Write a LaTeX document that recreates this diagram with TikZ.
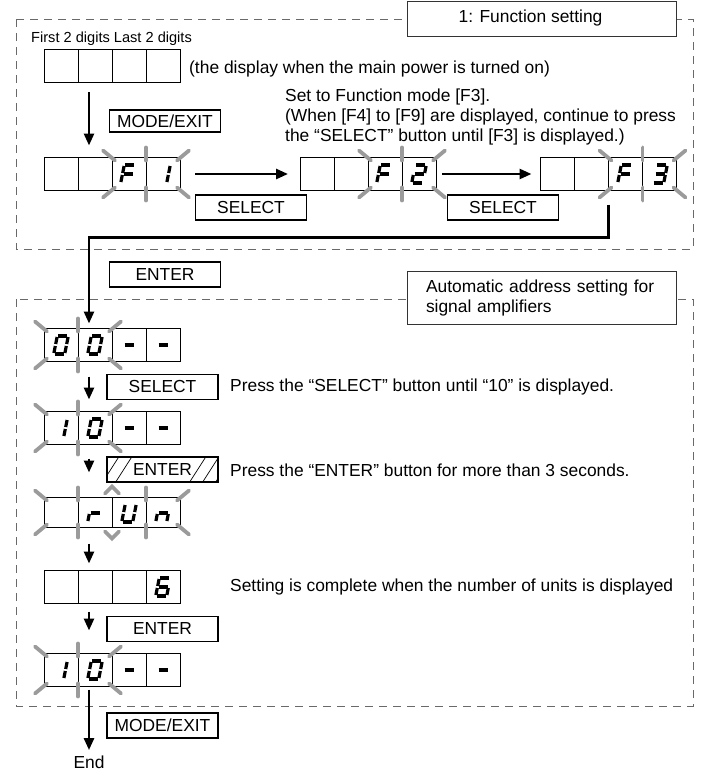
\documentclass[tikz,border=0pt]{standalone}
\usepackage{fontspec}
\setmainfont{Liberation Sans}
\usetikzlibrary{calc, arrows.meta, positioning}
\definecolor{grigio}{RGB}{155,155,155}
\definecolor{tratto}{RGB}{105,105,105}

\tikzset{
  disp/.style={draw, line width=0.8pt, minimum width=136pt, minimum height=33pt, inner sep=0pt, outer sep=0pt},
  cella/.style={line width=0.8pt},
  seg/.style={line width=3.2pt},
  raggio/.style={grigio, line width=3.8pt, line cap=round},
  tasto/.style={draw, line width=1.6pt, minimum width=111pt, minimum height=25pt, inner sep=0pt, fill=white},
  freccia/.style={line width=2.6pt, -{Triangle[length=12pt, width=10pt]}},
  riquadro/.style={tratto, line width=0.9pt, dash pattern=on 8pt off 6pt},
  titolo/.style={draw=black!80, line width=0.9pt, fill=white, minimum width=269pt, inner sep=0pt},
}

% segmenti delle cifre
\newcommand{\sA}{\draw[seg] (-4.5,-9) -- (4.5,-9);}
\newcommand{\sB}{\draw[seg] (5.5,-8) -- (5.5,-1);}
\newcommand{\sC}{\draw[seg] (5.5,1) -- (5.5,8);}
\newcommand{\sD}{\draw[seg] (-4.5,9) -- (4.5,9);}
\newcommand{\sE}{\draw[seg] (-5.5,1) -- (-5.5,8);}
\newcommand{\sF}{\draw[seg] (-5.5,-8) -- (-5.5,-1);}
\newcommand{\sG}{\draw[seg] (-4.5,0) -- (4.5,0);}
\newcommand{\cifra}[2]{\begin{scope}[shift={(#1)}, xslant=0.2]#2\end{scope}}

% display a quattro celle
\newcommand{\display}[3][33pt]{%
  \node[disp, minimum height=#1] (#2) at (#3) {};
  \foreach \k in {1,2,3}
    \draw[cella] ($(#2.north west)+(34*\k,0)$) -- ($(#2.south west)+(34*\k,0)$);
}

% raggi intorno alle cifre che lampeggiano
\newcommand{\lampeggia}[2]{%
  \begin{scope}[shift={($(#1.north west)+(#2,0)$)}]
    \draw[raggio] (3,3) -- (-9,-7);
    \draw[raggio] (34,3) -- (34,-10);
    \draw[raggio] (65,3) -- (77,-7);
  \end{scope}
  \begin{scope}[shift={($(#1.south west)+(#2,0)$)}]
    \draw[raggio] (3,-3) -- (-9,7);
    \draw[raggio] (34,-3) -- (34,10);
    \draw[raggio] (65,-3) -- (77,7);
  \end{scope}}

\begin{document}
\begin{tikzpicture}[x=1pt, y=-1pt, font=\fontsize{17.4}{20}\selectfont]
  \useasboundingbox (0,0) rectangle (703,771);
  %riquadri tratteggiati
  \draw[riquadro] (16,19) rectangle (693,249);
  \draw[riquadro] (16,299) rectangle (693,706);
  \node[titolo, minimum height=35pt] (tit1) at (541.5,18.5) {1: Function setting\hspace*{22pt}};
  \node[titolo, minimum height=53pt, text width=231pt, inner xsep=19pt, align=left] (tit2) at (541.5,297.5)
    {Automatic address setting for\\signal amplifiers};

  %display
  \display{d0}{112,65.5}
  \display{d1}{112,174}
  \display{d2}{368,174}
  \display{d3}{608.5,174}
  \display{d4}{112,345}
  \display{d5}{112,428}
  \display[30pt]{d6}{112,512.5}
  \display{d7}{112,587}
  \display{d8}{112,670}

  %cifre
  \cifra{128,174}{\sA\sF\sE\sG}
  \cifra{163,174}{\sB\sC}
  \cifra{384,174}{\sA\sF\sE\sG}
  \cifra{419,174}{\sA\sB\sG\sE\sD}
  \cifra{625,174}{\sA\sF\sE\sG}
  \cifra{660,174}{\sA\sB\sG\sC\sD}
  \cifra{61,345}{\sA\sB\sC\sD\sE\sF}
  \cifra{95,345}{\sA\sB\sC\sD\sE\sF}
  \cifra{129,345}{\sG}
  \cifra{163,345}{\sG}
  \cifra{60,428}{\sB\sC}
  \cifra{95,428}{\sA\sB\sC\sD\sE\sF}
  \cifra{129,428}{\sG}
  \cifra{163,428}{\sG}
  \cifra{95,513}{\sE\sG}
  \cifra{129,513}{\sB\sC\sD\sE\sF}
  \cifra{163,513}{\sE\sG\sC}
  \cifra{163,587}{\sA\sF\sG\sE\sD\sC}
  \cifra{60,670}{\sB\sC}
  \cifra{95,670}{\sA\sB\sC\sD\sE\sF}
  \cifra{129,670}{\sG}
  \cifra{163,670}{\sG}

  %lampeggio
  \lampeggia{d1}{68}
  \lampeggia{d2}{68}
  \lampeggia{d3}{68}
  \lampeggia{d4}{0}
  \lampeggia{d5}{0}
  \lampeggia{d8}{0}
  \begin{scope}[shift={(d6.north west)}]
    \draw[raggio] (3,3) -- (-9,-7);
    \draw[raggio] (34,3) -- (34,-10);
    \draw[raggio] (61,-4) -- (68,-11) -- (75,-4);
    \draw[raggio] (102,3) -- (102,-10);
    \draw[raggio] (133,3) -- (145,-7);
  \end{scope}
  \begin{scope}[shift={(d6.south west)}]
    \draw[raggio] (3,-3) -- (-9,7);
    \draw[raggio] (34,-3) -- (34,10);
    \draw[raggio] (61,4) -- (68,11) -- (75,4);
    \draw[raggio] (102,-3) -- (102,10);
    \draw[raggio] (133,-3) -- (145,7);
  \end{scope}

  %tasti
  \node[tasto, minimum height=22pt] (modo1) at (165,121) {MODE/EXIT};
  \node[tasto] (sel1) at (251,207.5) {SELECT};
  \node[tasto] (sel2) at (503,207.5) {SELECT};
  \node[tasto] (enter1) at (165,274.5) {ENTER};
  \node[tasto] (sel3) at (162.5,387) {SELECT};
  \node[tasto] (enter2) at (162.5,469.5) {ENTER};
  \begin{scope}
    \clip (enter2.south west) rectangle (enter2.north east);
    \foreach \x in {-4,9,83,96,109}
      \draw[line width=0.7pt] ($(enter2.south west)+(\x,0)$) -- ++(16,-25);
  \end{scope}
  \node[tasto] (enter3) at (162.5,629) {ENTER};
  \node[tasto] (modo2) at (162.5,725.5) {MODE/EXIT};

  %testi
  \node[anchor=west, inner sep=0pt, font=\fontsize{14.6}{16}\selectfont] (cifre) at (31,39) {First 2 digits Last 2 digits};
  \node[anchor=west, inner sep=0pt] (accensione) at (189,69) {(the display when the main power is turned on)};
  \node[anchor=west, inner sep=0pt, align=left] (nota) at (285,117)
    {Set to Function mode [F3].\\(When [F4] to [F9] are displayed, continue to press\\the “SELECT” button until [F3] is displayed.)};
  \node[anchor=west, inner sep=0pt] (nota1) at (230,387) {Press the “SELECT” button until “10” is displayed.};
  \node[anchor=west, inner sep=0pt] (nota2) at (230,470) {Press the “ENTER” button for more than 3 seconds.};
  \node[anchor=west, inner sep=0pt] (nota3) at (230,587) {Setting is complete when the number of units is displayed};
  \node (fine) at (89,762) {End};

  %frecce
  \draw[freccia, shorten <=10pt, shorten >=12pt] ([xshift=-23pt]d0.south) -- ([xshift=-23pt]d1.north);
  \draw[freccia, shorten <=15pt, shorten >=12pt] (d1.east) -- (d2.west);
  \draw[freccia, shorten <=6pt, shorten >=9pt] (d2.east) -- (d3.west);
  \draw[freccia, shorten >=5pt] ([yshift=-14pt]d3.south) -- ++(0,33) -| ([xshift=-23pt]d4.north);
  \draw[freccia, shorten <=15pt, shorten >=12pt] ([xshift=-23pt]d4.south) -- ([xshift=-23pt]d5.north);
  \draw[freccia, shorten <=14pt, shorten >=25pt] ([xshift=-23pt]d5.south) -- ([xshift=-23pt]d6.north);
  \draw[freccia, shorten <=16pt, shorten >=7pt] ([xshift=-23pt]d6.south) -- ([xshift=-23pt]d7.north);
  \draw[freccia, shorten <=8pt, shorten >=23pt] ([xshift=-23pt]d7.south) -- ([xshift=-23pt]d8.north);
  \draw[freccia, shorten <=3pt, shorten >=2pt] ([xshift=-23pt]d8.south) -- (fine.north);
\end{tikzpicture}
\end{document}
